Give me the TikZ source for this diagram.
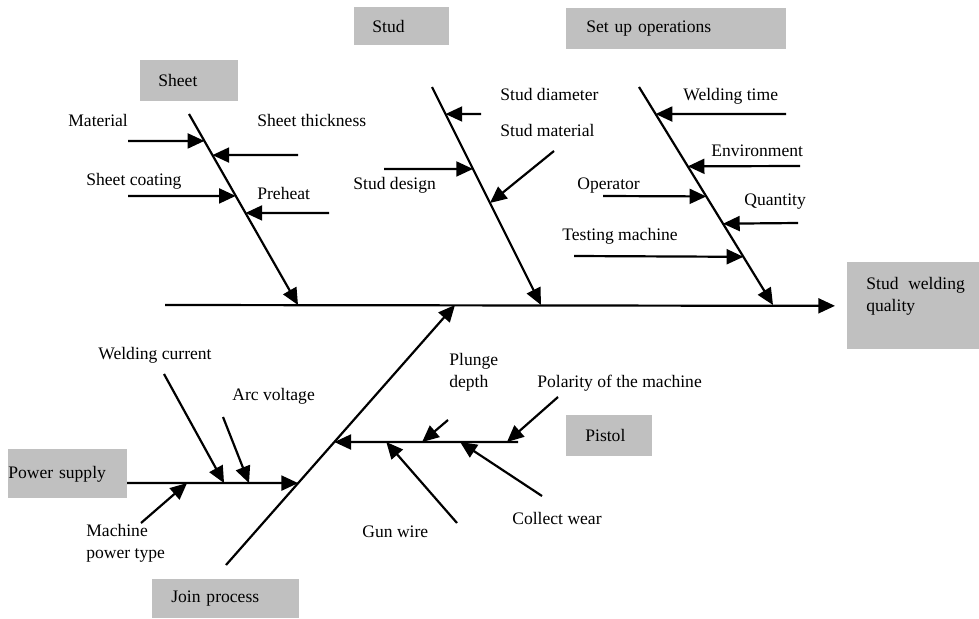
\documentclass[tikz,border=0pt]{standalone}
\usepackage{fontspec}
\setmainfont{Liberation Serif}
\usetikzlibrary{arrows.meta,calc}
\definecolor{boxgray}{HTML}{C0C0C0}
\tikzset{
  cat/.style={fill=boxgray, inner ysep=0pt, align=left, anchor=north west, font=\fontsize{10}{12.5}\selectfont},
  lbl/.style={inner sep=0pt, anchor=base west, font=\fontsize{10}{12.5}\selectfont},
  lbltwo/.style={inner sep=0pt, anchor=north west, align=left, font=\fontsize{10}{12.5}\selectfont},
  bone/.style={line width=1.25pt, -{Triangle[length=9.5pt,width=8.5pt]}},
}
\begin{document}
\begin{tikzpicture}[x=0.02cm, y=-0.02cm]
\useasboundingbox (0,0) rectangle (979,618);

\node[cat, minimum width=1.96cm, minimum height=0.82cm, inner xsep=0.36cm, text width=1.24cm] (sheet) at (140,60) {Sheet};
\node[cat, minimum width=1.9cm, minimum height=0.76cm, inner xsep=0.36cm, text width=1.18cm] (stud) at (354,7) {Stud};
\node[cat, minimum width=4.4cm, minimum height=0.82cm, inner xsep=0.4cm, text width=3.6cm] (setup) at (566,8) {Set up operations};
\node[cat, minimum width=2.38cm, minimum height=0.98cm, inner xsep=0pt, text width=2.38cm] (power) at (8,449) {Power supply};
\node[cat, minimum width=1.72cm, minimum height=0.82cm, inner xsep=0.38cm, text width=0.96cm] (pistol) at (566,415) {Pistol};
\node[cat, minimum width=2.94cm, minimum height=0.78cm, inner xsep=0.38cm, text width=2.18cm] (join) at (152,579) {Join process};
\node[cat, minimum width=2.64cm, minimum height=1.74cm] (quality) at (847,262) {};
\node[lbltwo] (qualitytxt) at (866,277) {Stud\hspace{3pt} welding\\quality};

\coordinate (tail) at (165,305);
\draw[bone] (tail) -- ([xshift=-0.24cm]quality.west);

\coordinate (sheetT) at (189,114);
\coordinate (sheetB) at (298,305);
\coordinate (studT) at (432,87);
\coordinate (studB) at (541,305);
\coordinate (setupT) at (639,87);
\coordinate (setupB) at (773,305);
\coordinate (joinB) at (226,565);
\coordinate (joinT) at (455,305);
\draw[bone] (sheetT) -- (sheetB);
\draw[bone] (studT) -- (studB);
\draw[bone] (setupT) -- (setupB);
\draw[bone] (joinB) -- (joinT);

\coordinate (pwr) at (127,483);
\coordinate (pwrE) at ($(joinB)!0.315!(joinT)$);
\coordinate (pst) at (518,442);
\coordinate (pstE) at ($(joinB)!0.473!(joinT)$);
\draw[bone] (pwr) -- (pwrE);
\draw[bone] (pst) -- (pstE);

\coordinate (mat) at (128,141);
\coordinate (thk) at (298,155);
\coordinate (coat) at (128,196);
\coordinate (pre) at (329,213);
\draw[bone] (mat) -- ($(sheetT)!0.141!(sheetB)$);
\draw[bone] (thk) -- ($(sheetT)!0.215!(sheetB)$);
\draw[bone] (coat) -- ($(sheetT)!0.429!(sheetB)$);
\draw[bone] (pre) -- ($(sheetT)!0.518!(sheetB)$);

\coordinate (dia) at (481,114);
\coordinate (des) at (384,169);
\coordinate (smat) at (554,151);
\draw[bone] (dia) -- ($(studT)!0.124!(studB)$);
\draw[bone] (des) -- ($(studT)!0.376!(studB)$);
\draw[bone] (smat) -- ($(studT)!0.532!(studB)$);

\coordinate (wtime) at (786,114);
\coordinate (env) at (800,166);
\coordinate (oper) at (603,196);
\coordinate (quant) at (798,223);
\coordinate (test) at (574,256);
\draw[bone] (wtime) -- ($(setupT)!0.124!(setupB)$);
\draw[bone] (env) -- ($(setupT)!0.364!(setupB)$);
\draw[bone] (oper) -- ($(setupT)!0.502!(setupB)$);
\draw[bone] (quant) -- ($(setupT)!0.627!(setupB)$);
\draw[bone] (test) -- ($(setupT)!0.779!(setupB)$);

\coordinate (cur) at (164,374);
\coordinate (arc) at (223,417);
\coordinate (mpt) at (141,523);
\draw[bone] (cur) -- ($(pwr)!0.567!(pwrE)$);
\draw[bone] (arc) -- ($(pwr)!0.713!(pwrE)$);
\draw[bone] (mpt) -- ($(pwr)!0.351!(pwrE)$);

\coordinate (plg) at (448,420);
\coordinate (pol) at (558,397);
\coordinate (cw) at (542,496);
\coordinate (gw) at (457,523);
\draw[bone] (plg) -- ($(pst)!0.522!(pstE)$);
\draw[bone] (pol) -- ($(pst)!0.06!(pstE)$);
\draw[bone] (cw) -- ($(pst)!0.315!(pstE)$);
\draw[bone] (gw) -- ($(pst)!0.717!(pstE)$);

\node[lbl] (lmat) at (68,127) {Material};
\node[lbl] (lthk) at (257,127) {Sheet thickness};
\node[lbl] (lcoat) at (86,186) {Sheet coating};
\node[lbl] (lpre) at (257,199) {Preheat};
\node[lbl] (ldia) at (500,101) {Stud diameter};
\node[lbl] (lsmat) at (500,137) {Stud material};
\node[lbl] (ldes) at (353,190) {Stud design};
\node[lbl] (lwtime) at (683,101) {Welding time};
\node[lbl] (lenv) at (711,156) {Environment};
\node[lbl] (loper) at (577,190) {Operator};
\node[lbl] (lquant) at (744,205) {Quantity};
\node[lbl] (ltest) at (562,240) {Testing machine};
\node[lbl] (lcur) at (98,359) {Welding current};
\node[lbl] (larc) at (232,400) {Arc voltage};
\node[lbltwo] (lmpt) at (86,524) {Machine\\power type};
\node[lbl] (lgw) at (362,537) {Gun wire};
\node[lbltwo] (lplg) at (449,353) {Plunge\\depth};
\node[lbl] (lpol) at (537,387) {Polarity of the machine};
\node[lbl] (lcw) at (512,524) {Collect wear};
\end{tikzpicture}
\end{document}
